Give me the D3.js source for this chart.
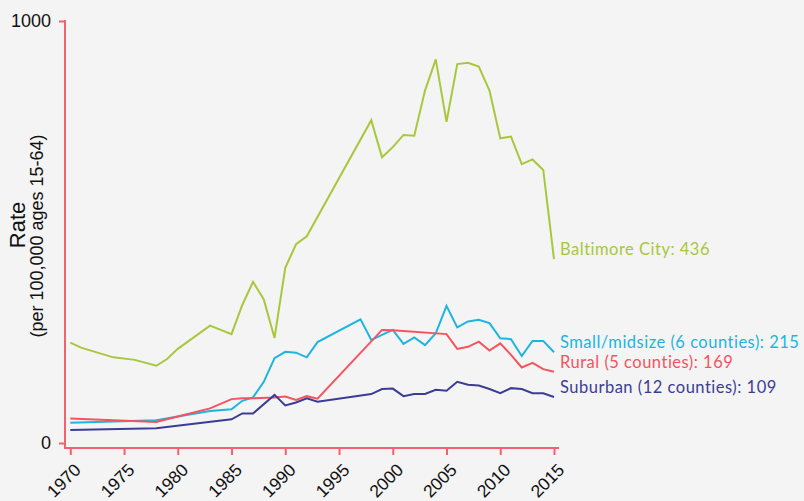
<!DOCTYPE html>
<html>
<head>
    <meta charset="utf-8">
    <title>Rate by region</title>
    <script src="https://cdn.jsdelivr.net/npm/d3@7"></script>
    <style>
        body { margin: 0; background: #f4f4f4; }
        svg { display: block; }
    </style>
</head>
<body>
    <svg width="804" height="501" id="mainsvg"></svg>
    <script>
        // values
        const baltimoreYears = [1970, 1971, 1974, 1976, 1978, 1979, 1980, 1983, 1985, 1986, 1987, 1988, 1989, 1990, 1991, 1992, 1998, 1999, 2000, 2001, 2002, 2003, 2004, 2005, 2006, 2007, 2008, 2009, 2010, 2011, 2012, 2013, 2014, 2015];
        const baltimoreValues = [238, 226, 203, 197, 183, 199, 223, 278, 258, 327, 382, 340, 249, 415, 471, 490, 765, 677, 701, 730, 728, 835, 909, 761, 898, 901, 892, 835, 722, 726, 661, 672, 647, 436];

        const smallYears = [1970, 1978, 1980, 1983, 1985, 1986, 1987, 1988, 1989, 1990, 1991, 1992, 1993, 1997, 1998, 1999, 2000, 2001, 2002, 2003, 2004, 2005, 2006, 2007, 2008, 2009, 2010, 2011, 2012, 2013, 2014, 2015];
        const smallValues = [48, 54, 63, 76, 80, 100, 108, 145, 201, 216, 214, 203, 239, 293, 244, 256, 268, 235, 250, 232, 260, 325, 274, 288, 292, 284, 248, 246, 206, 242, 242, 215];

        const ruralYears = [1970, 1978, 1980, 1983, 1985, 1986, 1987, 1989, 1990, 1991, 1992, 1993, 1999, 2000, 2005, 2006, 2007, 2008, 2009, 2010, 2011, 2012, 2013, 2014, 2015];
        const ruralValues = [58, 50, 63, 82, 104, 106, 106, 108, 110, 102, 111, 105, 268, 267, 258, 223, 228, 240, 219, 236, 209, 179, 190, 175, 169];

        const suburbanYears = [1970, 1978, 1985, 1986, 1987, 1989, 1990, 1991, 1992, 1993, 1998, 1999, 2000, 2001, 2002, 2003, 2004, 2005, 2006, 2007, 2008, 2009, 2010, 2011, 2012, 2013, 2014, 2015];
        const suburbanValues = [31, 35, 56, 70, 70, 114, 89, 96, 106, 98, 116, 128, 129, 111, 116, 116, 126, 124, 145, 138, 136, 128, 118, 130, 128, 118, 118, 109];

        const seriesNames = ['Baltimore City: 436', 'Small/midsize (6 counties): 215', 'Rural (5 counties): 169', 'Suburban (12 counties): 109'];
        const seriesColors = ['#a9c73c', '#1cb5e0', '#f4535f', '#3b3d94'];
        const xTicks = [1970, 1975, 1980, 1985, 1990, 1995, 2000, 2005, 2010, 2015];
        const yTicks = [0, 1000];

        const series = [
            { name: seriesNames[0], color: seriesColors[0], years: baltimoreYears, values: baltimoreValues },
            { name: seriesNames[1], color: seriesColors[1], years: smallYears, values: smallValues },
            { name: seriesNames[2], color: seriesColors[2], years: ruralYears, values: ruralValues },
            { name: seriesNames[3], color: seriesColors[3], years: suburbanYears, values: suburbanValues }
        ];

        const svg = d3.select('svg');
        const axisColor = '#f2626c';

        const x = d3.scaleLinear().domain([1970, 2015]).range([70.3, 554]);
        const y = d3.scaleLinear().domain([0, 1000]).range([443, 21]);

        svg.append('rect').attr('width', 804).attr('height', 501).attr('fill', '#f4f4f4');

        // d3 axes for the ticks, then restyle
        const yAxis = svg.append('g').attr('transform', 'translate(65,0)')
            .call(d3.axisLeft(y).tickValues(yTicks).tickSize(6).tickPadding(8).tickFormat(d3.format('d')));
        yAxis.select('.domain').remove();
        yAxis.selectAll('line').attr('stroke', axisColor).attr('stroke-width', 2);
        yAxis.selectAll('text').attr('font-family', 'Liberation Sans, Arial, sans-serif')
            .attr('font-size', 18).attr('fill', '#111');
        yAxis.append('line').attr('x1', 0).attr('x2', 0).attr('y1', 20).attr('y2', 449)
            .attr('stroke', axisColor).attr('stroke-width', 2);

        const xAxis = svg.append('g').attr('transform', 'translate(0,448)')
            .call(d3.axisBottom(x).tickValues(xTicks).tickSize(7).tickFormat(d3.format('d')));
        xAxis.select('.domain').remove();
        xAxis.selectAll('line').attr('stroke', axisColor).attr('stroke-width', 2);
        xAxis.selectAll('text')
            .attr('font-family', 'Liberation Sans, Arial, sans-serif')
            .attr('font-size', 17.5).attr('fill', '#111')
            .attr('text-anchor', 'end')
            .attr('y', 0).attr('dy', 0)
            .attr('transform', 'translate(11,23) rotate(-45)');
        xAxis.append('line').attr('x1', 64).attr('x2', 559).attr('y1', 0).attr('y2', 0)
            .attr('stroke', axisColor).attr('stroke-width', 2);

        // axis title
        svg.append('text').attr('transform', 'translate(25,225) rotate(-90)')
            .attr('text-anchor', 'middle').attr('font-family', 'Liberation Sans, Arial, sans-serif')
            .attr('font-size', 22).attr('fill', '#111').text('Rate');
        svg.append('text').attr('transform', 'translate(43,236) rotate(-90)')
            .attr('text-anchor', 'middle').attr('font-family', 'Liberation Sans, Arial, sans-serif')
            .attr('font-size', 18).attr('fill', '#111').text('(per 100,000 ages 15-64)');

        const line = d3.line().x(d => x(d[0])).y(d => y(d[1]));

        series.forEach(s => {
            const pts = d3.zip(s.years, s.values);
            svg.append('path').datum(pts)
                .attr('d', line).attr('fill', 'none')
                .attr('stroke', s.color).attr('stroke-width', 2)
                .attr('stroke-linejoin', 'miter');
            const last = pts[pts.length - 1];
            svg.append('text')
                .attr('x', x(last[0]) + 6).attr('y', y(last[1]) - 10)
                .attr('dominant-baseline', 'central')
                .attr('font-family', 'Lato, sans-serif').attr('font-size', 16.5)
                .attr('letter-spacing', 0.5)
                .attr('fill', s.color).text(s.name);
        });
    </script>
</body>
</html>
